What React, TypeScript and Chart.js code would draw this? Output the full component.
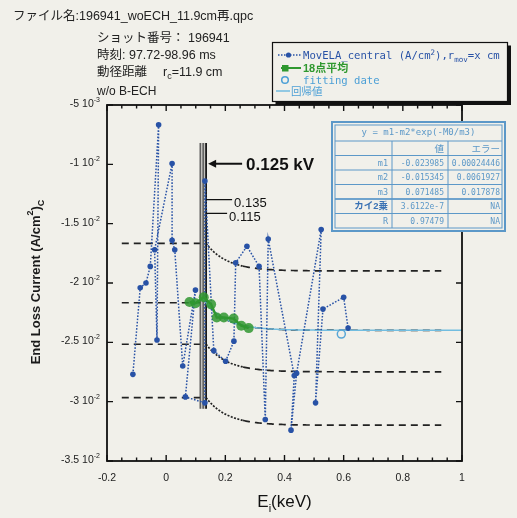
import React, { useEffect, useRef } from "react";
import { Chart, registerables } from "chart.js";

Chart.register(...registerables);

const W = 517;
const H = 518;

// Central end loss current versus ion energy, in acquisition order
const energyKeV = [
  -0.1125, -0.0877, -0.0683, -0.0537, -0.0255, -0.031, -0.039, 0.02, 0.02, 0.029,
  0.056, 0.099, 0.065, 0.131, 0.131, 0.161, 0.201, 0.229, 0.235, 0.273,
  0.314, 0.335, 0.345, 0.433, 0.422, 0.441, 0.524, 0.505, 0.53, 0.6, 0.615,
];
const currentA = [
  -0.0277, -0.0204, -0.02, -0.0186, -0.00666, -0.0248, -0.0172, -0.00994, -0.0164, -0.0172,
  -0.027, -0.0206, -0.0296, -0.0301, -0.0114, -0.0257, -0.0266, -0.0249, -0.0183, -0.0169,
  -0.0186, -0.0315, -0.0163, -0.0278, -0.0324, -0.0276, -0.0155, -0.0301, -0.0222, -0.0212, -0.0238,
];

// 18-point running average
const avgEnergy = [0.079, 0.099, 0.127, 0.152, 0.171, 0.195, 0.228, 0.254, 0.279];
const avgCurrent = [-0.0216, -0.0217, -0.0212, -0.0218, -0.0229, -0.0229, -0.023, -0.0236, -0.0238];

// point flagged as fitting data
const fitPointEnergy = [0.592];
const fitPointCurrent = [-0.0243];

// fit result table: y = m1 - m2*exp(-M0/m3)
const fitFormula = "y = m1-m2*exp(-M0/m3)";
const paramNames = ["m1", "m2", "m3", "カイ2乗", "R"];
const paramValues = ["-0.023985", "-0.015345", "0.071485", "3.6122e-7", "0.97479"];
const paramErrors = ["0.00024446", "0.0061927", "0.017878", "NA", "NA"];

// offsets of the dashed reference curves from the fit, and where they bend
const curveOffsets = [0.005, 0, -0.0035, -0.008];
const kneeEnergy = 0.135;
const flatStart = -0.15;
const curveEnd = 0.93;

// retarding voltage markers (kV)
const markerEnergy = [0.115, 0.125, 0.135];
const markerTop = -0.0082;
const markerBottom = -0.0306;
const arrowLevel = -0.00995;
const label135Level = -0.01297;
const label115Level = -0.01414;

// axes
const xMin = -0.2;
const xMax = 1;
const yMin = -0.035;
const yMax = -0.005;
const xTicks = [-0.2, 0, 0.2, 0.4, 0.6, 0.8, 1];
const xMinorStep = 0.05;
const yTicks = [-0.005, -0.01, -0.015, -0.02, -0.025, -0.03, -0.035];

const headerLines = [
  "ファイル名:196941_woECH_11.9cm再.qpc",
  "ショット番号： 196941",
  "時刻: 97.72-98.96 ms",
  "動径距離",
  "w/o B-ECH",
];

const PAPER = "#f1f0ea";
const BLUE = "#2852a6";
const GREEN = "#2f982f";
const CYAN = "#72bde0";
const TABLE_BLUE = "#5c98c8";
const SANS = '"Liberation Sans", Arial, "Noto Sans CJK JP", sans-serif';
const MONO = '"DejaVu Sans Mono", "Noto Sans CJK JP", monospace';

const m1 = parseFloat(paramValues[0]);
const m2 = parseFloat(paramValues[1]);
const m3 = parseFloat(paramValues[2]);
const fitAt = (e: number) => m1 - m2 * Math.exp(-e / m3);

type Run = { t: string; size: number; dy?: number; weight?: string; family?: string };

function runFont(r: Run) {
  return `${r.weight || "normal"} ${r.size}px ${r.family || SANS}`;
}

function drawRich(
  ctx: CanvasRenderingContext2D,
  runs: Run[],
  x: number,
  y: number,
  align: "left" | "center" | "right",
  color: string
) {
  let w = 0;
  for (const r of runs) {
    ctx.font = runFont(r);
    w += ctx.measureText(r.t).width;
  }
  let cx = align === "left" ? x : align === "center" ? x - w / 2 : x - w;
  ctx.fillStyle = color;
  ctx.textAlign = "left";
  ctx.textBaseline = "alphabetic";
  for (const r of runs) {
    ctx.font = runFont(r);
    ctx.fillText(r.t, cx, y + (r.dy || 0));
    cx += ctx.measureText(r.t).width;
  }
  return w;
}

function sampleRange(a: number, b: number, step: number) {
  const out: number[] = [];
  const n = Math.round((b - a) / step);
  for (let i = 0; i <= n; i++) out.push(a + i * step);
  return out;
}

function dashedCurve(offset: number) {
  const level = fitAt(kneeEnergy) + offset;
  const pts: { x: number; y: number | null }[] = [
    { x: flatStart, y: level },
    { x: markerEnergy[0], y: level },
    { x: markerEnergy[1], y: null },
  ];
  for (const e of sampleRange(kneeEnergy, curveEnd, 0.005)) pts.push({ x: e, y: fitAt(e) + offset });
  return pts;
}

const decorPlugin = {
  id: "decor",
  beforeDraw(chart: any) {
    const ctx = chart.ctx as CanvasRenderingContext2D;
    ctx.save();
    ctx.fillStyle = PAPER;
    ctx.fillRect(0, 0, chart.width, chart.height);
    ctx.restore();
  },
  beforeDatasetsDraw(chart: any) {
    const ctx = chart.ctx as CanvasRenderingContext2D;
    const xs = chart.scales.x;
    const ys = chart.scales.y;
    const x0 = xs.getPixelForValue(markerEnergy[0]);
    const x1 = xs.getPixelForValue(markerEnergy[2]);
    const y0 = ys.getPixelForValue(markerTop);
    const y1 = ys.getPixelForValue(markerBottom);
    ctx.save();
    ctx.fillStyle = "rgba(110,110,110,0.35)";
    ctx.fillRect(x0, y0, x1 - x0, y1 - y0);
    ctx.restore();
  },
  afterDraw(chart: any) {
    const ctx = chart.ctx as CanvasRenderingContext2D;
    const xs = chart.scales.x;
    const ys = chart.scales.y;
    const a = chart.chartArea;
    ctx.save();

    // frame
    ctx.strokeStyle = "#111";
    ctx.lineWidth = 1.8;
    ctx.strokeRect(a.left, a.top, a.right - a.left, a.bottom - a.top);

    // inward ticks
    ctx.lineWidth = 1.4;
    ctx.beginPath();
    for (const v of sampleRange(xMin, xMax, xMinorStep)) {
      const px = xs.getPixelForValue(v);
      const major = xTicks.some((t) => Math.abs(t - v) < 1e-6);
      const len = major ? 6 : 3.5;
      ctx.moveTo(px, a.bottom);
      ctx.lineTo(px, a.bottom - len);
      ctx.moveTo(px, a.top);
      ctx.lineTo(px, a.top + len);
    }
    for (const v of yTicks) {
      const py = ys.getPixelForValue(v);
      ctx.moveTo(a.left, py);
      ctx.lineTo(a.left + 6, py);
      ctx.moveTo(a.right, py);
      ctx.lineTo(a.right - 6, py);
    }
    ctx.stroke();

    // tick labels
    for (const v of xTicks) {
      const px = xs.getPixelForValue(v);
      const s = Number(v.toFixed(2)).toString();
      drawRich(ctx, [{ t: s, size: 10.5 }], px, a.bottom + 20, "center", "#222");
    }
    for (const v of yTicks) {
      const py = ys.getPixelForValue(v);
      const e = Math.floor(Math.log10(Math.abs(v)) + 1e-9);
      const mant = Number((v / Math.pow(10, e)).toFixed(2)).toString();
      drawRich(
        ctx,
        [
          { t: `${mant} 10`, size: 10.5 },
          { t: `${e}`, size: 7, dy: -5 },
        ],
        a.left - 7,
        py + 2,
        "right",
        "#222"
      );
    }

    // axis titles
    drawRich(
      ctx,
      [
        { t: "E", size: 17 },
        { t: "i", size: 11, dy: 5 },
        { t: "(keV)", size: 17 },
      ],
      (a.left + a.right) / 2,
      507,
      "center",
      "#111"
    );
    ctx.save();
    ctx.translate(40, 282);
    ctx.rotate(-Math.PI / 2);
    drawRich(
      ctx,
      [
        { t: "End Loss Current (A/cm", size: 13, weight: "bold" },
        { t: "2", size: 9, dy: -7, weight: "bold" },
        { t: ")", size: 13, weight: "bold" },
        { t: "C", size: 9, dy: 4, weight: "bold" },
      ],
      0,
      0,
      "center",
      "#1a1a1a"
    );
    ctx.restore();

    // header lines
    drawRich(ctx, [{ t: headerLines[0], size: 12.5 }], 13, 20, "left", "#222");
    drawRich(ctx, [{ t: headerLines[1], size: 12.5 }], 97, 42, "left", "#222");
    drawRich(ctx, [{ t: headerLines[2], size: 12.5 }], 97, 59, "left", "#222");
    drawRich(ctx, [{ t: headerLines[3], size: 12.5 }], 97, 76, "left", "#222");
    drawRich(
      ctx,
      [
        { t: "r", size: 12.5 },
        { t: "c", size: 9, dy: 3 },
        { t: "=11.9 cm", size: 12.5 },
      ],
      163,
      76,
      "left",
      "#222"
    );
    drawRich(ctx, [{ t: headerLines[4], size: 12 }], 97, 95, "left", "#222");

    // voltage marker annotations
    const xm = xs.getPixelForValue(markerEnergy[2]);
    const yArrow = ys.getPixelForValue(arrowLevel);
    ctx.strokeStyle = "#111";
    ctx.fillStyle = "#111";
    ctx.lineWidth = 2;
    ctx.beginPath();
    ctx.moveTo(xm + 8, yArrow);
    ctx.lineTo(xm + 36, yArrow);
    ctx.stroke();
    ctx.beginPath();
    ctx.moveTo(xm + 2, yArrow);
    ctx.lineTo(xm + 10, yArrow - 4);
    ctx.lineTo(xm + 10, yArrow + 4);
    ctx.closePath();
    ctx.fill();
    drawRich(ctx, [{ t: "0.125 kV", size: 17, weight: "bold" }], xm + 40, yArrow + 6, "left", "#111");

    ctx.lineWidth = 1.3;
    const y135 = ys.getPixelForValue(label135Level);
    const y115 = ys.getPixelForValue(label115Level);
    ctx.beginPath();
    ctx.moveTo(xm, y135);
    ctx.lineTo(xm + 26, y135);
    ctx.moveTo(xm, y115);
    ctx.lineTo(xm + 21, y115);
    ctx.stroke();
    drawRich(ctx, [{ t: "0.135", size: 13 }], xm + 28, y135 + 7, "left", "#111");
    drawRich(ctx, [{ t: "0.115", size: 13 }], xm + 23, y115 + 8, "left", "#111");

    // legend box
    const lx = 272.5;
    const ly = 42.5;
    const lw = 235;
    const lh = 59;
    ctx.fillStyle = PAPER;
    ctx.fillRect(lx, ly, lw, lh);
    ctx.strokeStyle = "#111";
    ctx.lineWidth = 1.2;
    ctx.strokeRect(lx, ly, lw, lh);
    ctx.fillStyle = "#111";
    ctx.fillRect(lx + lw, ly + 3, 3.5, lh);
    ctx.fillRect(lx + 3, ly + lh, lw + 0.5, 3.5);

    // entry 1
    ctx.save();
    ctx.strokeStyle = BLUE;
    ctx.lineWidth = 1.5;
    ctx.setLineDash([1.5, 1.5]);
    ctx.beginPath();
    ctx.moveTo(278, 55);
    ctx.lineTo(301, 55);
    ctx.stroke();
    ctx.restore();
    ctx.fillStyle = BLUE;
    ctx.beginPath();
    ctx.arc(288.5, 55, 2.6, 0, Math.PI * 2);
    ctx.fill();
    drawRich(
      ctx,
      [
        { t: "MovELA_central (A/cm", size: 10.6, family: MONO },
        { t: "2", size: 7.5, dy: -4, family: MONO },
        { t: "),r", size: 10.6, family: MONO },
        { t: "mov", size: 7.5, dy: 3, family: MONO },
        { t: "=x cm", size: 10.6, family: MONO },
      ],
      303,
      58.5,
      "left",
      BLUE
    );

    // entry 2
    ctx.strokeStyle = GREEN;
    ctx.lineWidth = 2;
    ctx.beginPath();
    ctx.moveTo(281, 68);
    ctx.lineTo(301, 68);
    ctx.stroke();
    ctx.fillStyle = GREEN;
    ctx.fillRect(282, 65, 6.5, 6.5);
    drawRich(ctx, [{ t: "18点平均", size: 11, weight: "bold" }], 303, 72, "left", GREEN);

    // entry 3
    ctx.strokeStyle = "#4b9fd6";
    ctx.lineWidth = 1.5;
    ctx.beginPath();
    ctx.arc(285, 80, 3.3, 0, Math.PI * 2);
    ctx.stroke();
    drawRich(ctx, [{ t: "fitting date", size: 10.6, family: MONO }], 303, 83.5, "left", "#4b9fd6");

    // entry 4
    ctx.strokeStyle = CYAN;
    ctx.lineWidth = 1.5;
    ctx.beginPath();
    ctx.moveTo(276, 91);
    ctx.lineTo(290, 91);
    ctx.stroke();
    drawRich(ctx, [{ t: "回帰値", size: 10.5 }], 291, 95, "left", "#4b9fd6");

    // fit result table
    const tl = 332;
    const tr = 505;
    const tt = 122;
    const tb = 231;
    const c1 = 392;
    const c2 = 448;
    const hb = 141;
    const rowH = (tb - 3 - hb) / 6;
    ctx.fillStyle = PAPER;
    ctx.fillRect(tl, tt, tr - tl, tb - tt);
    ctx.strokeStyle = TABLE_BLUE;
    ctx.lineWidth = 2;
    ctx.strokeRect(tl, tt, tr - tl, tb - tt);
    ctx.lineWidth = 1;
    ctx.strokeRect(tl + 3, tt + 3, tr - tl - 6, tb - tt - 6);
    ctx.beginPath();
    ctx.moveTo(tl + 3, hb);
    ctx.lineTo(tr - 3, hb);
    for (let i = 1; i < 6; i++) {
      const yy = hb + i * rowH;
      ctx.moveTo(tl + 3, yy);
      ctx.lineTo(tr - 3, yy);
    }
    ctx.moveTo(c1, hb);
    ctx.lineTo(c1, tb - 3);
    ctx.moveTo(c2, hb);
    ctx.lineTo(c2, tb - 3);
    ctx.stroke();
    ctx.lineWidth = 1.6;
    ctx.beginPath();
    ctx.moveTo(tl + 3, hb + 4 * rowH);
    ctx.lineTo(tr - 3, hb + 4 * rowH);
    ctx.stroke();

    drawRich(ctx, [{ t: fitFormula, size: 9, family: MONO }], (tl + tr) / 2, 135, "center", TABLE_BLUE);
    const r0 = hb + rowH / 2 + 3.5;
    drawRich(ctx, [{ t: "値", size: 9.5 }], c2 - 4, r0, "right", TABLE_BLUE);
    drawRich(ctx, [{ t: "エラー", size: 9.5 }], tr - 5, r0, "right", TABLE_BLUE);
    for (let i = 0; i < paramNames.length; i++) {
      const yy = hb + (i + 1) * rowH + rowH / 2 + 3;
      const isChi = i === 3;
      drawRich(
        ctx,
        [{ t: paramNames[i], size: isChi ? 9.5 : 8.5, family: isChi ? SANS : MONO, weight: isChi ? "bold" : "normal" }],
        c1 - 4,
        yy,
        "right",
        isChi ? "#3a72b4" : TABLE_BLUE
      );
      drawRich(ctx, [{ t: paramValues[i], size: 8, family: MONO }], c2 - 4, yy, "right", TABLE_BLUE);
      drawRich(ctx, [{ t: paramErrors[i], size: 8, family: MONO }], tr - 5, yy, "right", TABLE_BLUE);
    }

    ctx.restore();
  },
};

export default function App() {
  const canvasRef = useRef<HTMLCanvasElement | null>(null);

  useEffect(() => {
    const canvas = canvasRef.current;
    if (!canvas) return;

    const dashedSets = curveOffsets.map((off) => ({
      data: dashedCurve(off),
      showLine: true,
      spanGaps: false,
      borderColor: "#222",
      borderWidth: 1.7,
      pointRadius: 0,
      segment: {
        borderDash: (c: any) =>
          c.p0.parsed.x >= kneeEnergy - 1e-9 && c.p0.parsed.x < 0.26 ? [2, 1.5] : [7, 5],
      },
      order: 10,
    }));

    const markerSets = markerEnergy.map((e, i) => ({
      data: [
        { x: e, y: markerTop },
        { x: e, y: markerBottom },
      ],
      showLine: true,
      borderColor: i === 2 ? "#1a1a1a" : "#444",
      borderWidth: i === 2 ? 1.8 : 1.2,
      pointRadius: 0,
      order: 9,
    }));

    const regression = {
      data: sampleRange(markerEnergy[1], xMax, 0.005).map((e) => ({ x: e, y: fitAt(e) })),
      showLine: true,
      borderColor: CYAN,
      borderWidth: 1.5,
      pointRadius: 0,
      order: 8,
    };

    const chart = new Chart(canvas, {
      type: "scatter",
      data: {
        datasets: [
          ...dashedSets,
          ...markerSets,
          regression,
          {
            data: energyKeV.map((x, i) => ({ x, y: currentA[i] })),
            showLine: true,
            borderColor: BLUE,
            borderWidth: 1.5,
            borderDash: [1.6, 1.6],
            pointRadius: 2.8,
            pointBackgroundColor: BLUE,
            pointBorderWidth: 0,
            order: 7,
          },
          {
            data: avgEnergy.map((x, i) => ({ x, y: avgCurrent[i] })),
            showLine: true,
            borderColor: GREEN,
            borderWidth: 2.5,
            pointRadius: 5,
            pointBackgroundColor: "rgba(48,150,48,0.85)",
            pointBorderWidth: 0,
            order: 6,
          },
          {
            data: fitPointEnergy.map((x, i) => ({ x, y: fitPointCurrent[i] })),
            showLine: false,
            pointRadius: 4,
            pointBackgroundColor: "rgba(0,0,0,0)",
            pointBorderColor: "#58a6d6",
            pointBorderWidth: 1.5,
            order: 5,
          },
        ] as any,
      },
      options: {
        animation: false,
        responsive: false,
        devicePixelRatio: 1,
        layout: { padding: { left: 107, top: 105, right: 55, bottom: 57 } },
        scales: {
          x: { type: "linear", min: xMin, max: xMax, display: false },
          y: { type: "linear", min: yMin, max: yMax, display: false },
        },
        plugins: { legend: { display: false }, tooltip: { enabled: false } },
      },
      plugins: [decorPlugin],
    });

    return () => chart.destroy();
  }, []);

  return (
    <div style={{ position: "fixed", left: 0, top: 0, width: W, height: H, background: PAPER }}>
      <canvas ref={canvasRef} width={W} height={H} />
    </div>
  );
}
